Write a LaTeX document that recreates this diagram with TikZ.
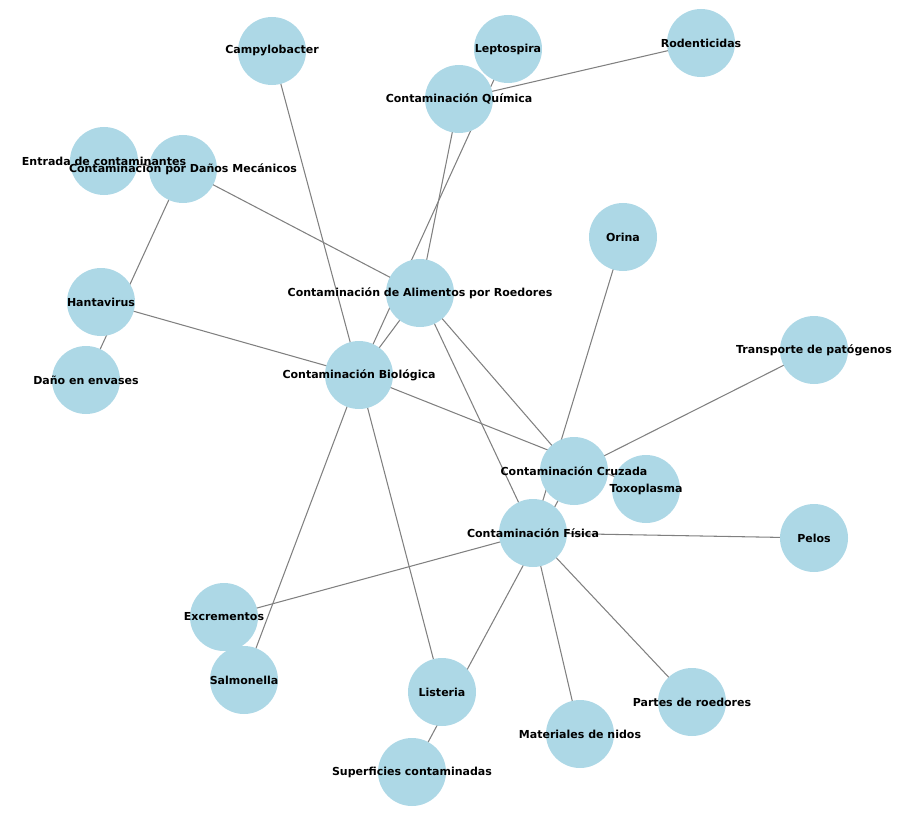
\documentclass[tikz,border=0pt]{standalone}
\usepackage{fontspec}
\setmainfont{DejaVu Sans}
\usepackage{xcolor}
\usetikzlibrary{backgrounds}
\definecolor{nodeBlue}{HTML}{ADD8E6}
\definecolor{edgeGray}{HTML}{808080}
\tikzset{
  topic/.style={circle, fill=nodeBlue, draw=none, minimum size=2.04cm,
        inner sep=0pt},
  lbl/.style={font=\fontsize{9.4}{11}\selectfont\bfseries, text=black,
        inner sep=0pt},
  edge/.style={draw=edgeGray, line width=0.9pt}
}
\begin{document}
\begin{tikzpicture}[x=0.03cm, y=-0.03cm]
\useasboundingbox (0,0) rectangle (900,817);

\node[topic] (alim)  at (420,293) {};
\node[topic] (bio)   at (359,375) {};
\node[topic] (quim)  at (459,99)  {};
\node[topic] (fis)   at (533,533) {};
\node[topic] (cruz)  at (574,471) {};
\node[topic] (mec)   at (183,169) {};
\node[topic] (campy) at (272,51)  {};
\node[topic] (lepto) at (508,49)  {};
\node[topic] (roden) at (701,43)  {};
\node[topic] (entra) at (104,161) {};
\node[topic] (orina) at (623,237) {};
\node[topic] (hanta) at (101,302) {};
\node[topic] (trans) at (814,350) {};
\node[topic] (envas) at (86,380)  {};
\node[topic] (toxo)  at (646,489) {};
\node[topic] (pelos) at (814,538) {};
\node[topic] (excre) at (224,617) {};
\node[topic] (salmo) at (244,680) {};
\node[topic] (liste) at (442,692) {};
\node[topic] (parte) at (692,702) {};
\node[topic] (nidos) at (580,734) {};
\node[topic] (super) at (412,772) {};

\begin{scope}[on background layer]
\draw[edge] (alim.center) -- (bio.center);
\draw[edge] (alim.center) -- (quim.center);
\draw[edge] (alim.center) -- (fis.center);
\draw[edge] (alim.center) -- (cruz.center);
\draw[edge] (alim.center) -- (mec.center);
\draw[edge] (bio.center) -- (lepto.center);
\draw[edge] (bio.center) -- (salmo.center);
\draw[edge] (bio.center) -- (hanta.center);
\draw[edge] (bio.center) -- (campy.center);
\draw[edge] (bio.center) -- (liste.center);
\draw[edge] (bio.center) -- (toxo.center);
\draw[edge] (quim.center) -- (roden.center);
\draw[edge] (fis.center) -- (pelos.center);
\draw[edge] (fis.center) -- (excre.center);
\draw[edge] (fis.center) -- (orina.center);
\draw[edge] (fis.center) -- (parte.center);
\draw[edge] (fis.center) -- (nidos.center);
\draw[edge] (cruz.center) -- (trans.center);
\draw[edge] (cruz.center) -- (super.center);
\draw[edge] (mec.center) -- (envas.center);
\draw[edge] (mec.center) -- (entra.center);
\end{scope}

\node[lbl] at (alim)  {Contaminación de Alimentos por Roedores};
\node[lbl] at (bio)   {Contaminación Biológica};
\node[lbl] at (quim)  {Contaminación Química};
\node[lbl] at (fis)   {Contaminación Física};
\node[lbl] at (cruz)  {Contaminación Cruzada};
\node[lbl] at (mec)   {Contaminación por Daños Mecánicos};
\node[lbl] at (campy) {Campylobacter};
\node[lbl] at (lepto) {Leptospira};
\node[lbl] at (roden) {Rodenticidas};
\node[lbl] at (entra) {Entrada de contaminantes};
\node[lbl] at (orina) {Orina};
\node[lbl] at (hanta) {Hantavirus};
\node[lbl] at (trans) {Transporte de patógenos};
\node[lbl] at (envas) {Daño en envases};
\node[lbl] at (toxo)  {Toxoplasma};
\node[lbl] at (pelos) {Pelos};
\node[lbl] at (excre) {Excrementos};
\node[lbl] at (salmo) {Salmonella};
\node[lbl] at (liste) {Listeria};
\node[lbl] at (parte) {Partes de roedores};
\node[lbl] at (nidos) {Materiales de nidos};
\node[lbl] at (super) {Superficies contaminadas};
\end{tikzpicture}
\end{document}
